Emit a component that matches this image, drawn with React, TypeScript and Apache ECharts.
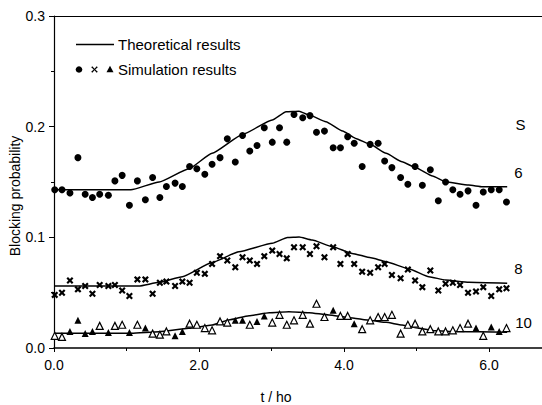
import React, { useEffect, useRef } from "react";
import * as echarts from "echarts";

// Simulation sample times (t / h0), shared by the three simulated series
const simTimes = [
  0.01, 0.11, 0.22, 0.33, 0.43, 0.53, 0.63, 0.75, 0.84, 0.94,
  1.04, 1.15, 1.26, 1.36, 1.46, 1.55, 1.67, 1.77, 1.87, 1.97,
  2.08, 2.18, 2.29, 2.39, 2.5, 2.6, 2.7, 2.8, 2.9, 3.01,
  3.11, 3.21, 3.31, 3.43, 3.53, 3.62, 3.73, 3.85, 3.95, 4.05,
  4.14, 4.25, 4.36, 4.47, 4.56, 4.66, 4.78, 4.88, 4.98, 5.08,
  5.19, 5.3, 5.4, 5.5, 5.6, 5.71, 5.82, 5.92, 6.03, 6.14, 6.24,
];

// S = 6 simulation (filled circles)
const simS6 = [
  0.143, 0.143, 0.140, 0.172, 0.139, 0.136, 0.139, 0.138, 0.151, 0.156,
  0.129, 0.151, 0.134, 0.154, 0.136, 0.146, 0.149, 0.146, 0.164, 0.162,
  0.157, 0.166, 0.172, 0.189, 0.168, 0.192, 0.178, 0.183, 0.199, 0.186,
  0.199, 0.186, 0.211, 0.208, 0.210, 0.195, 0.196, 0.181, 0.181, 0.191,
  0.185, 0.164, 0.184, 0.185, 0.169, 0.163, 0.154, 0.148, 0.164, 0.147,
  0.161, 0.133, 0.150, 0.143, 0.139, 0.142, 0.129, 0.141, 0.143, 0.143, 0.132,
];

// S = 8 simulation (crosses)
const simS8 = [
  0.048, 0.050, 0.061, 0.053, 0.056, 0.049, 0.057, 0.056, 0.057, 0.052,
  0.047, 0.062, 0.062, 0.049, 0.059, 0.060, 0.056, 0.060, 0.059, 0.068,
  0.067, 0.076, 0.083, 0.079, 0.073, 0.082, 0.079, 0.076, 0.083, 0.088,
  0.085, 0.081, 0.091, 0.091, 0.085, 0.092, 0.082, 0.091, 0.076, 0.085,
  0.076, 0.069, 0.068, 0.073, 0.076, 0.066, 0.063, 0.071, 0.061, 0.055,
  0.070, 0.052, 0.058, 0.059, 0.057, 0.050, 0.051, 0.055, 0.047, 0.053, 0.054,
];

// S = 10 simulation (triangles); filled flag: 1 = filled, 0 = open
const simS10 = [
  0.011, 0.010, 0.015, 0.025, 0.013, 0.015, 0.020, 0.014, 0.020, 0.021,
  0.014, 0.021, 0.018, 0.013, 0.012, 0.015, 0.011, 0.015, 0.022, 0.021,
  0.018, 0.016, 0.024, 0.023, 0.025, 0.025, 0.021, 0.024, 0.029, 0.023,
  0.030, 0.021, 0.025, 0.030, 0.022, 0.040, 0.028, 0.034, 0.029, 0.029,
  0.022, 0.017, 0.025, 0.028, 0.028, 0.030, 0.013, 0.021, 0.022, 0.015,
  0.017, 0.015, 0.015, 0.016, 0.018, 0.022, 0.018, 0.011, 0.019, 0.015, 0.018,
];
const simS10Filled = [
  0, 0, 1, 1, 1, 1, 0, 1, 0, 0,
  1, 0, 1, 0, 0, 0, 1, 1, 0, 0,
  0, 0, 0, 0, 1, 1, 0, 1, 1, 0,
  0, 0, 0, 0, 0, 0, 0, 1, 0, 0,
  1, 0, 0, 0, 0, 0, 0, 0, 0, 0,
  0, 0, 0, 0, 0, 0, 1, 0, 1, 1, 0,
];

// Theoretical curves
const theoryT6 = [0, 1.06, 1.45, 1.86, 2.18, 2.6, 3.01, 3.2, 3.38, 3.52, 3.75, 3.98, 4.16, 4.36, 4.58, 4.8, 4.99, 5.22, 5.4, 5.72, 5.91, 6.25];
const theoryS6 = [0.143, 0.143, 0.150, 0.162, 0.176, 0.193, 0.206, 0.2135, 0.214, 0.2105, 0.2044, 0.196, 0.1894, 0.184, 0.1759, 0.1683, 0.1629, 0.1554, 0.1502, 0.1472, 0.1457, 0.1457];
const theoryT8 = [0, 1.17, 1.45, 1.77, 2.18, 2.55, 3.01, 3.22, 3.38, 3.56, 3.84, 4.11, 4.37, 4.58, 4.9, 5.17, 5.4, 5.72, 6.25];
const theoryS8 = [0.056, 0.056, 0.0593, 0.0644, 0.0772, 0.087, 0.0946, 0.0998, 0.1003, 0.0976, 0.0915, 0.0855, 0.0815, 0.078, 0.0714, 0.0644, 0.0614, 0.0593, 0.0584];
const theoryT10 = [0, 1.07, 1.45, 1.86, 2.18, 2.41, 2.69, 2.97, 3.24, 3.52, 3.79, 4.07, 4.37, 4.58, 4.8, 5.03, 5.26, 5.54, 5.86, 6.25];
const theoryS10 = [0.0133, 0.0133, 0.0147, 0.0178, 0.0208, 0.0253, 0.0292, 0.0319, 0.0328, 0.0319, 0.0298, 0.0274, 0.0248, 0.0232, 0.0208, 0.0178, 0.0156, 0.0148, 0.0146, 0.0142];

// Axis ticks
const yTicks = [0, 0.1, 0.2, 0.3];
const xTicks = [0, 2, 4, 6];

// Curve labels
const curveLabels = ["S", "6", "8", "10"];
const legendLabels = ["Theoretical results", "Simulation results"];
const xAxisTitle = "t / ho";
const yAxisTitle = "Blocking probability";

const FONT = "'Liberation Sans', Arial, Helvetica, sans-serif";
const INK = "#000";
const CROSS = "path://M0,2.2L2.2,0L5,2.8L7.8,0L10,2.2L7.2,5L10,7.8L7.8,10L5,7.2L2.2,10L0,7.8L2.8,5Z";

export default function App() {
  const ref = useRef<HTMLDivElement>(null);
  useEffect(() => {
    if (!ref.current) return;
    const chart = echarts.init(ref.current, null, { renderer: "svg" });
    const zip = (xs: number[], ys: number[]) => xs.map((x, i) => [x, ys[i]]);
    const filledTri = simTimes.map((t, i) => (simS10Filled[i] ? [t, simS10[i]] : null)).filter(Boolean);
    const openTri = simTimes.map((t, i) => (!simS10Filled[i] ? [t, simS10[i]] : null)).filter(Boolean);
    const lineSeries = (xs: number[], ys: number[]) => ({
      type: "line",
      data: zip(xs, ys),
      showSymbol: false,
      smooth: 0.15,
      smoothMonotone: "x",
      lineStyle: { color: INK, width: 1.5 },
      z: 2,
    });
    // legend cross shape
    const cx = 94.5, cy = 69.5, h = 3.3, w = 1.1;
    const crossPts = [
      [cx - h, cy - h + w], [cx - h + w, cy - h], [cx, cy - w * 0.7], [cx + h - w, cy - h], [cx + h, cy - h + w],
      [cx + w * 0.7, cy], [cx + h, cy + h - w], [cx + h - w, cy + h], [cx, cy + w * 0.7], [cx - h + w, cy + h],
      [cx - h, cy + h - w], [cx - w * 0.7, cy],
    ];
    chart.setOption({
      animation: false,
      backgroundColor: "#fff",
      textStyle: { fontFamily: FONT },
      grid: { left: 54, right: 0, top: 16, bottom: 57, containLabel: false, outerBoundsMode: "none" },
      xAxis: [
        {
          type: "value",
          min: xTicks[0],
          max: 6.73,
          interval: xTicks[1] - xTicks[0],
          axisLine: { show: true, onZero: false, lineStyle: { color: INK, width: 1.5 } },
          axisTick: { show: true, length: 4, lineStyle: { color: INK } },
          minorTick: { show: true, splitNumber: 2, length: 3, lineStyle: { color: INK } },
          splitLine: { show: false },
          axisLabel: {
            color: INK, fontSize: 14, fontFamily: FONT, margin: 10,
            showMaxLabel: false,
            formatter: (v: number) => v.toFixed(1),
          },
        },
        {
          type: "value",
          position: "top",
          min: xTicks[0],
          max: 6.73,
          axisLine: { show: true, onZero: false, lineStyle: { color: INK, width: 1.2 } },
          axisTick: { show: false },
          axisLabel: { show: false },
          splitLine: { show: false },
        },
      ],
      yAxis: {
        type: "value",
        min: yTicks[0],
        max: yTicks[yTicks.length - 1],
        interval: yTicks[1] - yTicks[0],
        axisLine: { show: true, onZero: false, lineStyle: { color: INK, width: 1.2 } },
        axisTick: { show: true, length: 5, lineStyle: { color: INK } },
        minorTick: { show: true, splitNumber: 2, length: 3, lineStyle: { color: INK } },
        splitLine: { show: false },
        axisLabel: {
          color: INK, fontSize: 14, fontFamily: FONT, margin: 9,
          formatter: (v: number) => v.toFixed(1),
        },
      },
      series: [
        lineSeries(theoryT6, theoryS6),
        lineSeries(theoryT8, theoryS8),
        lineSeries(theoryT10, theoryS10),
        {
          type: "scatter",
          data: zip(simTimes, simS6),
          symbol: "circle",
          symbolSize: 7,
          itemStyle: { color: INK, opacity: 1 },
          z: 3,
        },
        {
          type: "scatter",
          data: zip(simTimes, simS8),
          symbol: CROSS,
          symbolSize: 7,
          itemStyle: { color: INK, opacity: 1 },
          z: 3,
        },
        {
          type: "scatter",
          data: filledTri,
          symbol: "triangle",
          symbolSize: [7, 7],
          itemStyle: { color: INK, opacity: 1 },
          z: 3,
        },
        {
          type: "scatter",
          data: openTri,
          symbol: "triangle",
          symbolSize: [7, 7],
          itemStyle: { color: "#fff", borderColor: INK, borderWidth: 1.2, opacity: 1 },
          z: 3,
        },
      ],
      graphic: [
        { type: "line", shape: { x1: 76, y1: 44.5, x2: 114, y2: 44.5 }, style: { stroke: INK, lineWidth: 1.3 } },
        { type: "text", x: 118, y: 44.5, style: { text: legendLabels[0], fontSize: 15, fontFamily: FONT, fill: INK, verticalAlign: "middle" } },
        { type: "circle", shape: { cx: 79, cy: 69.5, r: 3.3 }, style: { fill: INK } },
        { type: "polygon", shape: { points: crossPts }, style: { fill: INK } },
        { type: "polygon", shape: { points: [[110, 65.8], [113.5, 72.2], [106.5, 72.2]] }, style: { fill: INK } },
        { type: "text", x: 118, y: 69.5, style: { text: legendLabels[1], fontSize: 15, fontFamily: FONT, fill: INK, verticalAlign: "middle" } },
        { type: "text", x: 520.5, y: 124, style: { text: curveLabels[0], fontSize: 15, fontFamily: FONT, fill: INK, align: "center", verticalAlign: "middle" } },
        { type: "text", x: 518.5, y: 172, style: { text: curveLabels[1], fontSize: 15, fontFamily: FONT, fill: INK, align: "center", verticalAlign: "middle" } },
        { type: "text", x: 518.5, y: 268.5, style: { text: curveLabels[2], fontSize: 15, fontFamily: FONT, fill: INK, align: "center", verticalAlign: "middle" } },
        { type: "text", x: 523.5, y: 322, style: { text: curveLabels[3], fontSize: 15, fontFamily: FONT, fill: INK, align: "center", verticalAlign: "middle" } },
        { type: "text", x: 276, y: 397, style: { text: xAxisTitle, fontSize: 14, fontFamily: FONT, fill: INK, align: "center", verticalAlign: "middle" } },
        { type: "text", x: 15, y: 196, rotation: Math.PI / 2, style: { text: yAxisTitle, fontSize: 14, fontFamily: FONT, fill: INK, align: "center", verticalAlign: "middle" } },
      ],
    });
    return () => chart.dispose();
  }, []);
  return <div ref={ref} style={{ position: "fixed", left: 0, top: 0, width: 542, height: 405 }} />;
}
